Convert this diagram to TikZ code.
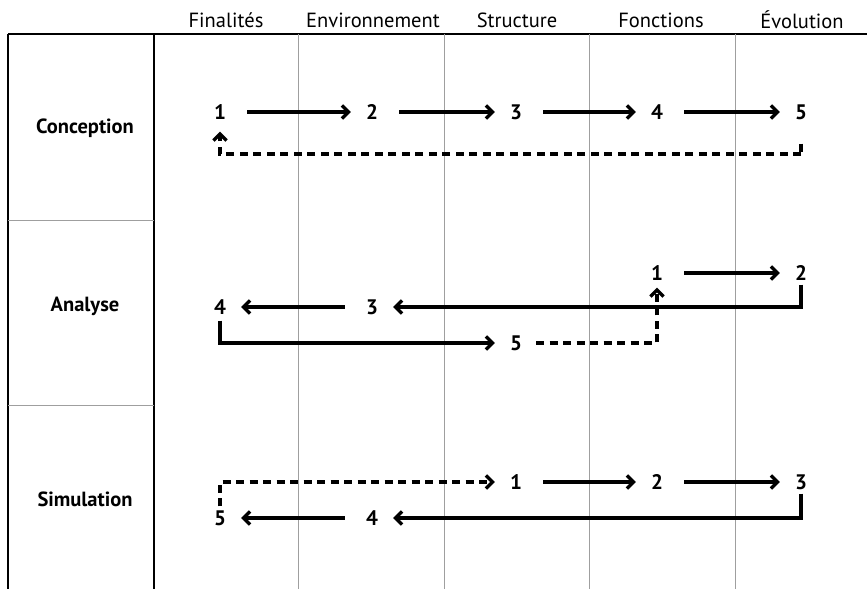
\documentclass[tikz,border=0pt]{standalone}
\usepackage{fontspec}
\setmainfont{PT Sans}
\usetikzlibrary{arrows.meta}
\tikzset{
  num/.style={font=\fontsize{21}{24}\selectfont\bfseries, inner sep=0pt},
  head/.style={font=\fontsize{20.5}{24}\selectfont},
  phase/.style={font=\fontsize{20.5}{24}\selectfont\bfseries},
  arr/.style={line width=3.4pt, -{Straight Barb[length=6.5pt,width=13pt,line width=3.4pt]}},
  dsh/.style={line width=3.4pt, dash pattern=on 8pt off 5.5pt},
  grille/.style={gray!75, line width=0.9pt}
}
\begin{document}
\begin{tikzpicture}[x=1pt,y=-1pt]
\useasboundingbox (0,0) rectangle (867,589);
\draw[line width=2pt] (8,34) -- (867,34);
\draw[line width=2pt] (8,34) -- (8,589);
\draw[line width=1.5pt] (154,34) -- (154,589);
\draw[grille] (8,220) -- (154,220);
\draw[grille] (8,405) -- (154,405);
\foreach \x in {298,444,589,735}
  \draw[grille] (\x,34) -- (\x,589);

\node[head] (fin) at (226,20) {Finalités};
\node[head] (env) at (373,20) {Environnement};
\node[head] (str) at (517,20) {Structure};
\node[head] (fon) at (661,20) {Fonctions};
\node[head] (evo) at (802,20) {Évolution};

\node[phase] (conc) at (85,128) {Conception};
\node[phase] (anal) at (85,306) {Analyse};
\node[phase] (simu) at (85,499) {Simulation};

\node[num] (c1) at (220,112) {1};
\node[num] (c2) at (372,112) {2};
\node[num] (c3) at (516,112) {3};
\node[num] (c4) at (657,112) {4};
\node[num] (c5) at (801,112) {5};
\coordinate (c5b) at (801,154);
\draw[arr, shorten <=21pt, shorten >=15pt] (c1) -- (c2);
\draw[arr, shorten <=21pt, shorten >=15pt] (c2) -- (c3);
\draw[arr, shorten <=21pt, shorten >=15pt] (c3) -- (c4);
\draw[arr, shorten <=21pt, shorten >=15pt] (c4) -- (c5);
\draw[dsh, shorten <=24pt] (c5) -- (c5b);
\draw[dsh, arr, shorten >=12pt] (c5b) -| (c1);

\node[num] (a1) at (657,273) {1};
\node[num] (a2) at (801,273) {2};
\node[num] (a3) at (372,307) {3};
\node[num] (a4) at (220,307) {4};
\node[num] (a5) at (516,343) {5};
\draw[arr, shorten <=21pt, shorten >=15pt] (a1) -- (a2);
\draw[arr, shorten <=4pt, shorten >=15pt] (a2) |- (a3);
\draw[arr, shorten <=21pt, shorten >=15pt] (a3) -- (a4);
\draw[arr, shorten <=6pt, shorten >=15pt] (a4) |- (a5);
\draw[dsh, arr, shorten <=14pt, shorten >=7pt] (a5) -| (a1);

\node[num] (s1) at (516,482) {1};
\node[num] (s2) at (657,482) {2};
\node[num] (s3) at (801,482) {3};
\node[num] (s4) at (372,518) {4};
\node[num] (s5) at (220,518) {5};
\draw[arr, shorten <=21pt, shorten >=15pt] (s1) -- (s2);
\draw[arr, shorten <=21pt, shorten >=15pt] (s2) -- (s3);
\draw[arr, shorten <=4pt, shorten >=15pt] (s3) |- (s4);
\draw[arr, shorten <=21pt, shorten >=15pt] (s4) -- (s5);
\draw[dsh, arr, shorten <=4pt, shorten >=15pt] (s5) |- (s1);
\end{tikzpicture}
\end{document}
